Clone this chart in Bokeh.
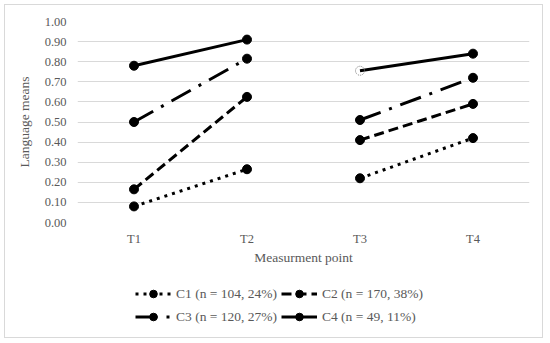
from bokeh.plotting import figure
from bokeh.layouts import column
from bokeh.models import FactorRange, Range1d, Legend, LegendItem, FixedTicker, NumeralTickFormatter
from bokeh.embed import file_html
from bokeh.resources import INLINE

cats = ["T1", "T2", "T3", "T4"]
c1 = [0.08, 0.265, 0.22, 0.42]
c2 = [0.165, 0.625, 0.41, 0.59]
c3 = [0.50, 0.815, 0.51, 0.72]
c4 = [0.78, 0.91, 0.755, 0.84]
series = [c1, c2, c3, c4]
labels = ["C1 (n = 104, 24%)", "C2 (n = 170, 38%)", "C3 (n = 120, 27%)", "C4 (n = 49, 11%)"]
dashes = ["3 5", "10 5", "22 9 3 9", "solid"]
yticks = [0.0, 0.1, 0.2, 0.3, 0.4, 0.5, 0.6, 0.7, 0.8, 0.9, 1.0]

FONT = "Liberation Serif"
GREY = "#595959"

xr = FactorRange(*cats, range_padding=0)
p = figure(width=537, height=270, x_range=xr, y_range=Range1d(0, 1),
           output_backend="svg", toolbar_location=None,
           min_border_left=72, min_border_right=13,
           min_border_top=16, min_border_bottom=53,
           border_fill_color="white")
p.outline_line_color = None
p.xgrid.grid_line_color = None
p.ygrid.grid_line_color = "#d9d9d9"
p.ygrid.grid_line_width = 1

p.yaxis.ticker = FixedTicker(ticks=yticks)
p.yaxis.formatter = NumeralTickFormatter(format="0.00")
for ax in (p.xaxis[0], p.yaxis[0]):
    ax.axis_line_color = None
    ax.major_tick_line_color = None
    ax.minor_tick_line_color = None
    ax.major_tick_in = 0
    ax.major_tick_out = 0
    ax.minor_tick_in = 0
    ax.minor_tick_out = 0
    ax.major_label_text_font = FONT
    ax.major_label_text_font_size = "12.5px"
    ax.major_label_text_color = GREY
    ax.axis_label_text_font = FONT
    ax.axis_label_text_font_size = "13.5px"
    ax.axis_label_text_color = GREY
    ax.axis_label_text_font_style = "normal"

p.yaxis.axis_label = "Language means"
p.yaxis.major_label_standoff = 11
p.yaxis.axis_label_standoff = 10
p.xaxis.axis_label = "Measurment point"
p.xaxis.major_label_standoff = 9
p.xaxis.axis_label_standoff = 1

# legend strip: same series drawn outside its visible y range, only the legend shows
lf = figure(width=537, height=62, x_range=xr, y_range=Range1d(10, 11),
            output_backend="svg", toolbar_location=None,
            x_axis_location=None, y_axis_location=None,
            min_border=0, border_fill_color="white")
lf.outline_line_color = None
lf.grid.grid_line_color = None


def draw(fig, vals, dash, special):
    rs = []
    for a, b in ((0, 2), (2, 4)):
        rs.append(fig.line(cats[a:b], vals[a:b], line_color="black", line_width=3,
                           line_dash=dash, line_cap="butt"))
    if special:
        idx = [0, 1, 3]
        m = fig.scatter([cats[j] for j in idx], [vals[j] for j in idx], size=9,
                        marker="circle", fill_color="black", line_color="black")
        fig.scatter([cats[2]], [vals[2]], size=9, marker="circle",
                    fill_alpha=0, line_color="#808080", line_dash="1 1", line_width=1)
    else:
        m = fig.scatter(cats, vals, size=9, marker="circle",
                        fill_color="black", line_color="black")
    return rs[0], m


items = []
for i, (vals, lab, dash) in enumerate(zip(series, labels, dashes)):
    draw(p, vals, dash, i == 3)
    l0, m = draw(lf, vals, dash, False)
    items.append(LegendItem(label=lab, renderers=[l0, m]))

lg = Legend(items=items, orientation="horizontal", ncols=2,
            location=(58, 11),
            label_text_font=FONT, label_text_font_size="13.5px",
            label_text_color=GREY, glyph_width=36, glyph_height=19,
            label_standoff=5, spacing=4, padding=0, margin=0,
            label_height=19,
            border_line_color=None, background_fill_alpha=0)
lf.add_layout(lg, "center")

layout = column(p, lf, spacing=0)
layout.styles = {"border": "1px solid #d9d9d9", "margin": "4px"}

open("out.html", "w").write(file_html(layout, INLINE))
